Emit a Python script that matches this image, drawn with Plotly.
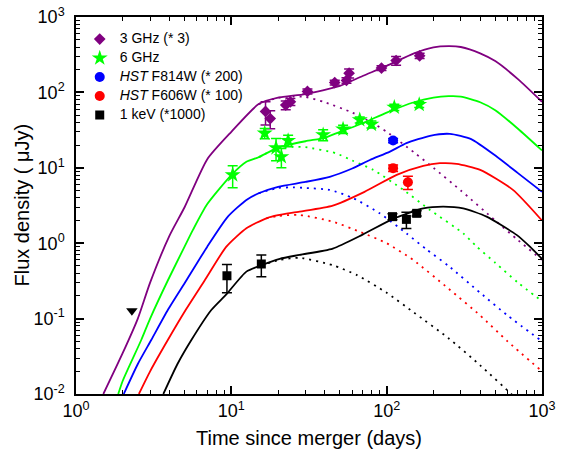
import plotly.graph_objects as go

# ---------------- data points ----------------
t3 = [16.6, 17.8, 22.4, 24.0, 30.9, 46.3, 55.1, 57.3, 92.6, 115, 163]
f3 = [56, 45, 68, 75, 103, 135, 144, 180, 210, 265, 306]
e3 = [19, 12, 9, 8, 8, 10, 12, 25, 15, 35, 25]

t6 = [10.2, 16.4, 19.4, 21.0, 23.2, 39.0, 52.4, 67.1, 79.8, 112, 162]
f6 = [8.05, 28.8, 18.4, 14.0, 23.0, 27.4, 32.6, 43.3, 37.7, 63.4, 69]
e6 = [2.6, 4.5, 6, 4, 4, 4.5, 4, 4, 4, 6, 6]

t814 = [110]
f814 = [23]
e814 = [1.5]

t606 = [110, 137]
f606 = [9.9, 6.44]
e606 = [1.0, 1.3]

tx = [9.37, 15.6, 109, 134, 156]
fx = [0.37, 0.53, 2.25, 2.07, 2.49]
ex = [0.15, 0.17, 0.2, 0.5, 0.2]

tul = [2.29]
ful = [0.127]

# ---------------- model curves ----------------
p_sol_t = [1.5, 2, 2.5, 3, 4, 5, 7, 10, 15, 20, 30, 50, 70, 100, 150, 200, 250, 300, 400, 500, 700, 1000]
p_sol_y = [0.01, 0.035, 0.1, 0.3, 1.26, 3.0, 13, 30, 70, 85, 95, 122, 165, 225, 330, 395, 410, 400, 330, 260, 150, 75]
p_dot_t = [15, 20, 25, 30, 40, 60, 80, 100, 150, 200, 300, 500, 700, 1000]
p_dot_y = [70, 85, 88, 87, 74, 54, 40, 30, 16, 10, 5, 2, 1.1, 0.6]

g_sol_t = [1.87, 2, 2.63, 3, 3.9, 5, 5.66, 7, 10, 12.5, 15, 20, 30, 40, 50, 70, 100, 150, 200, 250, 300, 400, 500, 700, 1000]
g_sol_y = [0.01, 0.015, 0.052, 0.1, 0.32, 0.9, 1.5, 3.3, 8, 12, 13.8, 18.5, 22.5, 25, 30, 39, 54, 74, 85, 89, 88, 74, 58, 33, 17]
g_dot_t = [15, 20, 25, 30, 47, 60, 82, 128, 190, 311, 380, 500, 700, 1000]
g_dot_y = [13.8, 18.3, 19, 18.8, 15.6, 12.5, 9.4, 5.1, 2.76, 1.35, 0.9, 0.55, 0.3, 0.17]

b_sol_t = [2.03, 2.5, 3.05, 3.9, 5.13, 7, 9.5, 12.5, 15, 20, 30, 43, 60, 78, 105, 134, 190, 255, 350, 510, 700, 1000]
b_sol_y = [0.01, 0.025, 0.052, 0.13, 0.32, 0.9, 2.25, 3.75, 4.6, 5.6, 6.5, 7.6, 9.8, 12.7, 16.4, 21.2, 26.6, 28.2, 24, 14.1, 8.5, 4.8]
b_dot_t = [15, 20, 25, 30, 43, 61, 90, 134, 180, 250, 400, 600, 1000]
b_dot_y = [4.6, 5.4, 5.5, 5.4, 5.1, 3.95, 2.5, 1.35, 0.83, 0.5, 0.22, 0.11, 0.05]

r_sol_t = [2.54, 3, 3.9, 5.08, 6.73, 9.29, 12.5, 16.8, 20, 27.5, 45, 72, 116, 172, 220, 282, 400, 650, 1000]
r_sol_y = [0.01, 0.02, 0.052, 0.13, 0.32, 0.9, 1.58, 2.14, 2.35, 2.62, 3.15, 4.8, 8.05, 10.6, 11.5, 11.3, 9.4, 5.1, 2.0]
r_dot_t = [16.8, 20, 27.5, 45, 67, 100, 148, 250, 400, 600, 1000]
r_dot_y = [2.14, 2.3, 2.37, 1.93, 1.42, 1.0, 0.6, 0.25, 0.11, 0.05, 0.02]

k_sol_t = [3.65, 4.5, 5.53, 7.43, 9.29, 12.5, 15.6, 20.5, 27.5, 45, 70, 110, 172, 231, 311, 440, 686, 836, 1000]
k_sol_y = [0.01, 0.025, 0.052, 0.13, 0.21, 0.42, 0.51, 0.62, 0.70, 0.85, 1.3, 2.1, 2.9, 3.06, 2.9, 2.25, 1.29, 0.9, 0.62]
k_dot_t = [15.6, 20.5, 27.5, 45, 64, 100, 150, 250, 400, 650, 800]
k_dot_y = [0.51, 0.6, 0.64, 0.51, 0.38, 0.22, 0.12, 0.055, 0.024, 0.0095, 0.006]

xtick_vals = [1, 10, 100, 1000]
xtick_text = ["10<sup>0</sup>", "10<sup>1</sup>", "10<sup>2</sup>", "10<sup>3</sup>"]
ytick_vals = [0.01, 0.1, 1, 10, 100, 1000]
ytick_text = ["10<sup>-2</sup>", "10<sup>-1</sup>", "10<sup>0</sup>", "10<sup>1</sup>", "10<sup>2</sup>", "10<sup>3</sup>"]
x_title = "Time since merger (days)"
y_title = "Flux density ( μJy)"
legend_names = ["3 GHz (* 3)", "6 GHz", "<i>HST</i> F814W (* 200)", "<i>HST</i> F606W (* 100)", "1 keV (*1000)"]

PURPLE = "#800080"
GREEN = "#00FF00"
BLUE = "#0000FF"
RED = "#FF0000"
BLACK = "#000000"

fig = go.Figure()

curves = [
    (p_sol_t, p_sol_y, p_dot_t, p_dot_y, PURPLE),
    (g_sol_t, g_sol_y, g_dot_t, g_dot_y, GREEN),
    (b_sol_t, b_sol_y, b_dot_t, b_dot_y, BLUE),
    (r_sol_t, r_sol_y, r_dot_t, r_dot_y, RED),
    (k_sol_t, k_sol_y, k_dot_t, k_dot_y, BLACK),
]
for st, sy, dt, dy, c in curves:
    fig.add_trace(go.Scatter(x=dt, y=dy, mode="lines", showlegend=False,
                             line=dict(color=c, width=1.8, dash="2px,5px", shape="spline", smoothing=0.6),
                             hoverinfo="skip"))
    fig.add_trace(go.Scatter(x=st, y=sy, mode="lines", showlegend=False,
                             line=dict(color=c, width=1.8, shape="spline", smoothing=0.6),
                             hoverinfo="skip"))

def err(e, c):
    return dict(type="data", array=e, visible=True, color=c, thickness=1.5, width=5)

def lname(s):
    return '<span style="font-size:14px">' + s + '</span>'

fig.add_trace(go.Scatter(x=t3, y=f3, mode="markers", name=lname(legend_names[0]),
                         marker=dict(symbol="diamond", size=9, color=PURPLE),
                         error_y=err(e3, PURPLE)))
fig.add_trace(go.Scatter(x=t6, y=f6, mode="markers", name=lname(legend_names[1]),
                         marker=dict(symbol="star", size=12, color=GREEN),
                         error_y=err(e6, GREEN)))
fig.add_trace(go.Scatter(x=t814, y=f814, mode="markers", name=lname(legend_names[2]),
                         marker=dict(symbol="circle", size=10, color=BLUE),
                         error_y=err(e814, BLUE)))
fig.add_trace(go.Scatter(x=t606, y=f606, mode="markers", name=lname(legend_names[3]),
                         marker=dict(symbol="circle", size=10, color=RED),
                         error_y=err(e606, RED)))
fig.add_trace(go.Scatter(x=tx, y=fx, mode="markers", name=lname(legend_names[4]),
                         marker=dict(symbol="square", size=9, color=BLACK),
                         error_y=err(ex, BLACK)))
fig.add_trace(go.Scatter(x=tul, y=ful, mode="markers", showlegend=False,
                         marker=dict(symbol="triangle-down", size=10, color=BLACK)))

font = "Liberation Sans, Arial, sans-serif"
minor_x = [m * 10 ** d for d in range(0, 3) for m in range(2, 10)]
minor_y = [m * 10 ** d for d in range(-2, 3) for m in range(2, 10)]

fig.update_xaxes(type="log", range=[0, 3], tickmode="array", tickvals=xtick_vals, ticktext=xtick_text,
                 ticks="inside", ticklen=8, tickwidth=1.5, tickcolor="black",
                 showline=True, linecolor="black", linewidth=1.5, mirror="ticks",
                 showgrid=False, zeroline=False, automargin=False,
                 tickfont=dict(family=font, size=18, color="black"),
                 minor=dict(tickmode="array", tickvals=minor_x, ticks="inside", ticklen=4,
                            tickwidth=1, tickcolor="black", showgrid=False))
fig.update_yaxes(type="log", range=[-2, 3], tickmode="array", tickvals=ytick_vals, ticktext=ytick_text,
                 ticks="inside", ticklen=8, tickwidth=1.5, tickcolor="black",
                 showline=True, linecolor="black", linewidth=1.5, mirror="ticks",
                 showgrid=False, zeroline=False, automargin=False, ticklabelstandoff=6,
                 tickfont=dict(family=font, size=18, color="black"),
                 minor=dict(tickmode="array", tickvals=minor_y, ticks="inside", ticklen=4,
                            tickwidth=1, tickcolor="black", showgrid=False))

fig.add_annotation(text=x_title, xref="paper", yref="paper", x=0.5, y=-0.118,
                   xanchor="center", yanchor="middle", showarrow=False,
                   font=dict(family=font, size=20, color="black"))
fig.add_annotation(text=y_title, xref="paper", yref="paper", x=-0.118, y=0.5,
                   xanchor="center", yanchor="middle", showarrow=False, textangle=-90,
                   font=dict(family=font, size=20, color="black"))

fig.update_layout(
    width=564, height=450,
    margin=dict(l=76, r=22, t=17, b=56, autoexpand=False),
    paper_bgcolor="white", plot_bgcolor="white",
    font=dict(family=font, color="black"),
    legend=dict(x=0.008, y=0.98, xanchor="left", yanchor="top",
                bgcolor="rgba(0,0,0,0)", font=dict(family=font, size=11, color="black"),
                tracegroupgap=0, itemwidth=30),
    showlegend=True,
)

fig.write_html("out.html", config={"displayModeBar": False},
               post_script="document.body.style.margin='0px';")
